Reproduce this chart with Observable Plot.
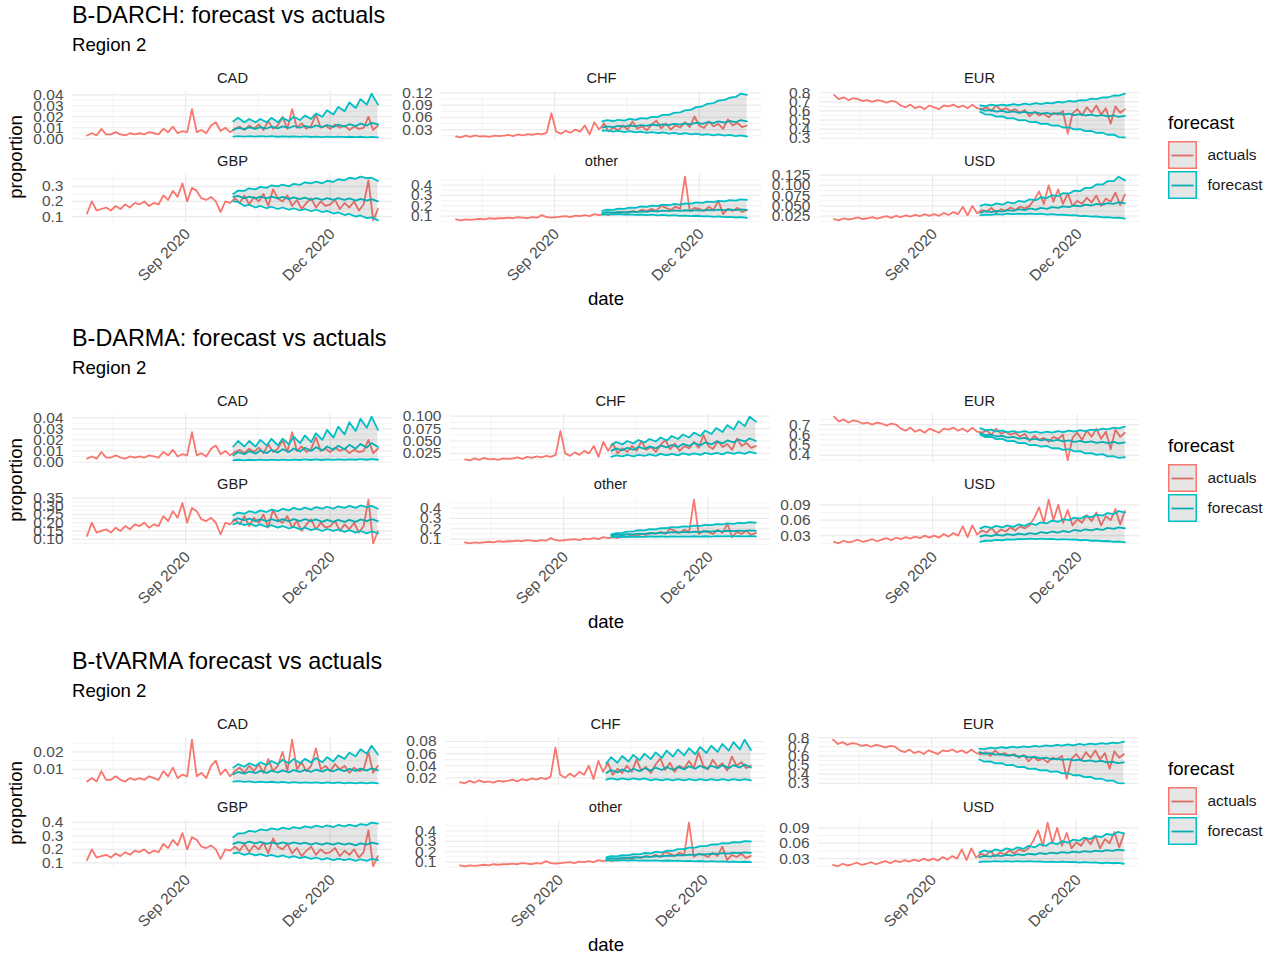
<!DOCTYPE html>
<html><head><meta charset="utf-8">
<script src="https://cdn.jsdelivr.net/npm/d3@7"></script>
<script src="https://cdn.jsdelivr.net/npm/@observablehq/plot@0.6"></script>
<style>
body{margin:0;background:#fff;}
#root{position:relative;width:1279px;height:955px;overflow:hidden;background:#fff;}
</style></head>
<body><div id="root"></div>
<script>
// ---------------- DATA ----------------
const sectionTitles = ["B-DARCH: forecast vs actuals", "B-DARMA: forecast vs actuals", "B-tVARMA forecast vs actuals"];
const sectionSubtitle = "Region 2";
const panelOrder = ["CAD", "CHF", "EUR", "GBP", "other", "USD"];
const models = ["darch", "darma", "tvarma"];
const legendKeys = ["actuals", "forecast"];
const legendColors = ["#F8766D", "#00BFC4"];
const xMajorBreaks = ["2020-09-01", "2020-12-01"];
const actualStart = "2020-07-01", actualStepDays = 3;
const forecastDates = ["2020-10-01","2020-10-04","2020-10-08","2020-10-11","2020-10-15","2020-10-18","2020-10-22","2020-10-25","2020-10-29",
  "2020-11-01","2020-11-05","2020-11-08","2020-11-12","2020-11-15","2020-11-19","2020-11-22","2020-11-26","2020-11-29",
  "2020-12-03","2020-12-06","2020-12-10","2020-12-13","2020-12-17","2020-12-20","2020-12-24","2020-12-27","2020-12-31"];

// actuals (every 3 days, Jul 1 – Dec 31 2020)
const actual_CAD = [0.003,0.005,0.003,0.009,0.004,0.004,0.006,0.004,0.003,0.005,
  0.004,0.005,0.004,0.006,0.005,0.004,0.009,0.006,0.011,0.005,0.007,
  0.006,0.027,0.006,0.008,0.005,0.012,0.015,0.007,0.010,0.006,
  0.009,0.011,0.008,0.012,0.009,0.013,0.008,0.016,0.009,0.012,
  0.020,0.009,0.027,0.010,0.014,0.009,0.012,0.022,0.010,0.012,
  0.009,0.013,0.010,0.012,0.008,0.011,0.009,0.010,0.020,0.008,0.012];
const actual_CHF = [0.013,0.011,0.015,0.012,0.016,0.013,0.014,0.012,0.015,0.014,
  0.015,0.017,0.014,0.018,0.016,0.019,0.017,0.020,0.018,0.022,0.070,
  0.025,0.020,0.027,0.022,0.030,0.025,0.040,0.018,0.048,0.030,
  0.045,0.025,0.035,0.028,0.040,0.030,0.050,0.032,0.038,0.028,
  0.042,0.052,0.033,0.045,0.030,0.040,0.035,0.048,0.036,0.062,
  0.040,0.034,0.050,0.038,0.044,0.032,0.055,0.040,0.046,0.036,0.040];
const actual_EUR = [0.777,0.73,0.75,0.72,0.74,0.73,0.71,0.72,0.70,0.72,
  0.71,0.69,0.71,0.70,0.66,0.64,0.67,0.63,0.65,0.62,0.66,
  0.64,0.62,0.66,0.65,0.67,0.64,0.66,0.63,0.67,0.63,
  0.62,0.64,0.60,0.66,0.61,0.63,0.60,0.62,0.58,0.61,
  0.54,0.59,0.55,0.57,0.53,0.58,0.56,0.60,0.35,0.57,
  0.62,0.55,0.64,0.58,0.66,0.56,0.63,0.46,0.65,0.58,0.62];
const actual_GBP = [0.12,0.20,0.14,0.15,0.16,0.14,0.17,0.15,0.18,0.16,
  0.19,0.18,0.20,0.17,0.19,0.18,0.24,0.21,0.27,0.23,0.32,
  0.20,0.29,0.27,0.22,0.21,0.23,0.20,0.13,0.20,0.19,
  0.22,0.19,0.24,0.18,0.23,0.20,0.25,0.17,0.28,0.22,
  0.20,0.24,0.17,0.21,0.15,0.19,0.22,0.16,0.20,0.17,
  0.18,0.21,0.15,0.19,0.16,0.20,0.14,0.18,0.34,0.075,0.15];
const actual_other = [0.07,0.06,0.07,0.065,0.07,0.075,0.07,0.08,0.075,0.08,
  0.08,0.085,0.08,0.09,0.085,0.08,0.09,0.085,0.11,0.09,0.085,
  0.09,0.095,0.10,0.09,0.105,0.10,0.11,0.10,0.12,0.11,
  0.12,0.11,0.13,0.12,0.14,0.13,0.15,0.14,0.16,0.15,
  0.17,0.15,0.20,0.18,0.16,0.19,0.17,0.48,0.15,0.18,
  0.17,0.15,0.19,0.16,0.25,0.12,0.17,0.15,0.18,0.14,0.16];
const actual_USD = [0.018,0.015,0.020,0.017,0.019,0.022,0.018,0.020,0.023,0.019,
  0.022,0.025,0.021,0.026,0.023,0.027,0.024,0.028,0.025,0.030,0.026,
  0.030,0.026,0.033,0.028,0.035,0.030,0.048,0.027,0.050,0.032,
  0.040,0.036,0.045,0.034,0.042,0.038,0.046,0.040,0.048,0.044,
  0.050,0.065,0.085,0.055,0.100,0.060,0.090,0.055,0.080,0.050,
  0.062,0.055,0.070,0.058,0.075,0.050,0.068,0.060,0.082,0.052,0.078];

// forecasts (twice weekly, Oct 1 – Dec 31 2020): lower, median, upper
const darch_CAD_lo = [0.0020,0.0024,0.0020,0.0024,0.0019,0.0023,0.0019,0.0023,0.0018,0.0022,0.0018,0.0022,0.0017,0.0021,0.0016,0.0020,0.0015,0.0019,0.0015,0.0019,0.0014,0.0018,0.0014,0.0018,0.0013,0.0017,0.0013];
const darch_CAD_mid = [0.0080,0.0098,0.0088,0.0104,0.0090,0.0106,0.0093,0.0110,0.0095,0.0112,0.0098,0.0116,0.0100,0.0118,0.0102,0.0121,0.0105,0.0125,0.0108,0.0129,0.0110,0.0132,0.0115,0.0138,0.0120,0.0145,0.0130];
const darch_CAD_hi = [0.016,0.019,0.015,0.018,0.015,0.018,0.015,0.019,0.015,0.019,0.016,0.020,0.017,0.021,0.018,0.023,0.020,0.026,0.022,0.029,0.025,0.033,0.028,0.036,0.031,0.041,0.031];
const darch_CHF_lo = [0.027,0.028,0.025,0.027,0.024,0.026,0.023,0.025,0.022,0.024,0.021,0.023,0.020,0.022,0.019,0.021,0.018,0.020,0.017,0.019,0.016,0.018,0.015,0.017,0.014,0.016,0.013];
const darch_CHF_mid = [0.035,0.038,0.036,0.039,0.037,0.040,0.038,0.041,0.039,0.042,0.040,0.043,0.041,0.044,0.042,0.045,0.043,0.047,0.044,0.048,0.046,0.050,0.047,0.051,0.048,0.053,0.050];
const darch_CHF_hi = [0.050,0.053,0.051,0.054,0.052,0.056,0.054,0.058,0.057,0.061,0.061,0.066,0.066,0.071,0.072,0.077,0.079,0.085,0.087,0.093,0.095,0.101,0.103,0.108,0.110,0.118,0.115];
const darch_EUR_lo = [0.59,0.563,0.56,0.538,0.54,0.518,0.52,0.498,0.50,0.478,0.48,0.458,0.46,0.438,0.44,0.418,0.42,0.398,0.40,0.378,0.38,0.358,0.36,0.338,0.34,0.313,0.31];
const darch_EUR_mid = [0.62,0.603,0.61,0.593,0.60,0.585,0.595,0.580,0.59,0.575,0.585,0.570,0.58,0.565,0.575,0.560,0.57,0.555,0.565,0.550,0.56,0.545,0.555,0.540,0.55,0.535,0.545];
const darch_EUR_hi = [0.66,0.653,0.67,0.658,0.67,0.660,0.675,0.665,0.68,0.670,0.685,0.675,0.69,0.683,0.70,0.693,0.71,0.703,0.72,0.715,0.735,0.730,0.75,0.748,0.77,0.768,0.79];
const darch_GBP_lo = [0.20,0.197,0.17,0.177,0.16,0.170,0.155,0.165,0.15,0.160,0.145,0.155,0.14,0.150,0.135,0.145,0.13,0.137,0.12,0.127,0.11,0.117,0.10,0.107,0.09,0.095,0.075];
const darch_GBP_mid = [0.23,0.237,0.22,0.232,0.22,0.232,0.22,0.232,0.22,0.230,0.215,0.227,0.215,0.225,0.21,0.222,0.21,0.222,0.21,0.222,0.21,0.220,0.205,0.217,0.205,0.215,0.20];
const darch_GBP_hi = [0.25,0.272,0.27,0.287,0.28,0.297,0.29,0.307,0.30,0.312,0.30,0.317,0.31,0.327,0.32,0.332,0.32,0.337,0.33,0.347,0.34,0.357,0.35,0.364,0.355,0.357,0.335];
const darch_other_lo = [0.115,0.120,0.115,0.120,0.115,0.118,0.112,0.116,0.110,0.114,0.108,0.112,0.105,0.109,0.102,0.106,0.100,0.104,0.097,0.101,0.094,0.097,0.090,0.094,0.087,0.090,0.083];
const darch_other_mid = [0.130,0.138,0.133,0.141,0.136,0.144,0.139,0.147,0.142,0.150,0.145,0.153,0.148,0.155,0.150,0.157,0.152,0.159,0.154,0.161,0.156,0.163,0.158,0.165,0.159,0.166,0.160];
const darch_other_hi = [0.150,0.163,0.160,0.173,0.170,0.183,0.180,0.193,0.190,0.202,0.198,0.210,0.205,0.217,0.212,0.224,0.220,0.232,0.228,0.240,0.235,0.247,0.242,0.254,0.250,0.262,0.257];
const darch_USD_lo = [0.027,0.029,0.028,0.030,0.029,0.031,0.030,0.0315,0.030,0.0315,0.030,0.031,0.029,0.030,0.028,0.029,0.027,0.0275,0.025,0.026,0.024,0.0245,0.022,0.023,0.021,0.0215,0.019];
const darch_USD_mid = [0.033,0.037,0.035,0.038,0.036,0.040,0.038,0.042,0.040,0.044,0.041,0.045,0.043,0.047,0.045,0.049,0.047,0.051,0.049,0.053,0.051,0.055,0.053,0.057,0.055,0.059,0.056];
const darch_USD_hi = [0.050,0.054,0.051,0.056,0.053,0.059,0.056,0.062,0.060,0.066,0.064,0.071,0.069,0.076,0.074,0.081,0.080,0.087,0.086,0.094,0.094,0.102,0.102,0.110,0.110,0.121,0.112];

const darma_CAD_lo = [0.0015,0.0020,0.0015,0.0020,0.0016,0.0021,0.0016,0.0021,0.0017,0.0022,0.0017,0.0022,0.0018,0.0023,0.0018,0.0023,0.0018,0.0023,0.0019,0.0024,0.0019,0.0024,0.0020,0.0025,0.0020,0.0025,0.0020];
const darma_CAD_mid = [0.0060,0.0090,0.0070,0.0098,0.0075,0.0104,0.0080,0.0110,0.0085,0.0116,0.0090,0.0122,0.0095,0.0128,0.0100,0.0134,0.0105,0.0140,0.0110,0.0147,0.0115,0.0155,0.0120,0.0163,0.0130,0.0172,0.0135];
const darma_CAD_hi = [0.014,0.019,0.014,0.019,0.014,0.020,0.015,0.021,0.015,0.021,0.016,0.023,0.017,0.024,0.018,0.026,0.020,0.029,0.022,0.032,0.025,0.036,0.028,0.039,0.031,0.041,0.029];
const darma_CHF_lo = [0.018,0.021,0.019,0.022,0.019,0.022,0.020,0.023,0.020,0.024,0.021,0.024,0.021,0.025,0.022,0.025,0.022,0.026,0.023,0.026,0.023,0.027,0.024,0.027,0.024,0.028,0.025];
const darma_CHF_mid = [0.030,0.035,0.031,0.036,0.032,0.038,0.034,0.039,0.035,0.041,0.037,0.042,0.038,0.044,0.040,0.046,0.041,0.047,0.043,0.049,0.045,0.051,0.047,0.053,0.049,0.055,0.050];
const darma_CHF_hi = [0.042,0.048,0.043,0.050,0.045,0.052,0.047,0.054,0.049,0.057,0.051,0.060,0.054,0.063,0.057,0.067,0.060,0.071,0.064,0.076,0.068,0.082,0.073,0.090,0.080,0.099,0.089];
const darma_EUR_lo = [0.60,0.578,0.58,0.558,0.56,0.538,0.54,0.518,0.52,0.498,0.50,0.483,0.49,0.468,0.47,0.453,0.46,0.438,0.44,0.418,0.42,0.403,0.41,0.388,0.39,0.373,0.38];
const darma_EUR_mid = [0.615,0.596,0.60,0.583,0.59,0.573,0.58,0.563,0.57,0.553,0.56,0.546,0.555,0.541,0.55,0.536,0.545,0.531,0.54,0.526,0.535,0.521,0.53,0.518,0.53,0.516,0.525];
const darma_EUR_hi = [0.665,0.646,0.65,0.633,0.64,0.626,0.635,0.623,0.635,0.621,0.63,0.618,0.63,0.621,0.635,0.626,0.64,0.631,0.645,0.636,0.65,0.643,0.66,0.653,0.67,0.663,0.68];
const darma_GBP_lo = [0.19,0.200,0.185,0.195,0.18,0.190,0.175,0.185,0.17,0.180,0.165,0.175,0.16,0.170,0.155,0.165,0.15,0.162,0.15,0.160,0.145,0.155,0.14,0.150,0.135,0.147,0.135];
const darma_GBP_mid = [0.215,0.227,0.215,0.225,0.21,0.222,0.21,0.222,0.21,0.222,0.21,0.222,0.21,0.222,0.21,0.220,0.205,0.217,0.205,0.217,0.205,0.217,0.205,0.220,0.21,0.222,0.21];
const darma_GBP_hi = [0.245,0.262,0.255,0.270,0.26,0.275,0.265,0.280,0.27,0.285,0.275,0.290,0.28,0.292,0.28,0.295,0.285,0.297,0.285,0.300,0.29,0.302,0.29,0.305,0.295,0.302,0.285];
const darma_other_lo = [0.120,0.124,0.121,0.125,0.122,0.125,0.122,0.126,0.123,0.126,0.123,0.127,0.124,0.127,0.124,0.128,0.125,0.128,0.125,0.129,0.126,0.129,0.126,0.130,0.127,0.130,0.127];
const darma_other_mid = [0.135,0.143,0.140,0.148,0.145,0.153,0.150,0.158,0.155,0.163,0.160,0.167,0.163,0.170,0.166,0.173,0.169,0.176,0.172,0.179,0.175,0.181,0.177,0.183,0.179,0.185,0.180];
const darma_other_hi = [0.145,0.158,0.160,0.173,0.175,0.186,0.185,0.196,0.195,0.206,0.205,0.215,0.213,0.223,0.220,0.230,0.228,0.238,0.235,0.245,0.242,0.251,0.248,0.257,0.254,0.263,0.260];
const darma_USD_lo = [0.018,0.020,0.020,0.0215,0.021,0.0225,0.022,0.0235,0.023,0.024,0.023,0.024,0.023,0.0235,0.022,0.023,0.022,0.0225,0.021,0.0215,0.020,0.0205,0.019,0.0195,0.018,0.0185,0.017];
const darma_USD_mid = [0.028,0.031,0.029,0.032,0.030,0.033,0.031,0.034,0.032,0.035,0.033,0.037,0.035,0.038,0.036,0.039,0.037,0.041,0.039,0.042,0.040,0.043,0.041,0.045,0.043,0.046,0.044];
const darma_USD_hi = [0.044,0.048,0.045,0.049,0.046,0.050,0.047,0.052,0.049,0.054,0.051,0.056,0.054,0.059,0.057,0.062,0.060,0.065,0.063,0.068,0.066,0.071,0.069,0.074,0.072,0.078,0.075];

const tvarma_CAD_lo = [0.0030,0.0033,0.0028,0.0031,0.0026,0.0030,0.0025,0.0029,0.0024,0.0028,0.0023,0.0027,0.0022,0.0026,0.0022,0.0026,0.0021,0.0025,0.0021,0.0025,0.0020,0.0024,0.0020,0.0024,0.0020,0.0024,0.0020];
const tvarma_CAD_mid = [0.0072,0.0085,0.0075,0.0088,0.0078,0.0091,0.0080,0.0093,0.0082,0.0094,0.0083,0.0096,0.0085,0.0097,0.0086,0.0098,0.0087,0.0100,0.0089,0.0101,0.0090,0.0103,0.0091,0.0104,0.0093,0.0106,0.0094];
const tvarma_CAD_hi = [0.0110,0.0130,0.0115,0.0135,0.0120,0.0140,0.0125,0.0148,0.0130,0.0155,0.0135,0.0160,0.0135,0.0160,0.0140,0.0165,0.0140,0.0170,0.0145,0.0180,0.0160,0.0195,0.0175,0.0215,0.0190,0.0235,0.0185];
const tvarma_CHF_lo = [0.017,0.019,0.017,0.019,0.017,0.019,0.017,0.019,0.016,0.018,0.016,0.018,0.016,0.018,0.016,0.018,0.016,0.018,0.016,0.018,0.016,0.018,0.016,0.018,0.016,0.018,0.016];
const tvarma_CHF_mid = [0.028,0.033,0.029,0.034,0.030,0.035,0.031,0.036,0.032,0.037,0.033,0.038,0.033,0.038,0.034,0.039,0.035,0.040,0.035,0.040,0.036,0.041,0.036,0.041,0.037,0.042,0.037];
const tvarma_CHF_hi = [0.044,0.054,0.045,0.056,0.047,0.058,0.049,0.060,0.051,0.062,0.053,0.065,0.055,0.067,0.057,0.069,0.059,0.071,0.061,0.073,0.063,0.076,0.065,0.079,0.067,0.083,0.066];
const tvarma_EUR_lo = [0.56,0.538,0.54,0.518,0.52,0.498,0.50,0.478,0.48,0.458,0.46,0.441,0.445,0.426,0.43,0.408,0.41,0.388,0.39,0.368,0.37,0.348,0.35,0.328,0.33,0.303,0.30];
const tvarma_EUR_mid = [0.64,0.623,0.63,0.613,0.62,0.603,0.61,0.593,0.60,0.583,0.59,0.573,0.58,0.563,0.57,0.556,0.565,0.550,0.56,0.543,0.55,0.536,0.545,0.528,0.535,0.521,0.53];
const tvarma_EUR_hi = [0.68,0.673,0.69,0.681,0.695,0.686,0.70,0.691,0.705,0.696,0.71,0.701,0.715,0.706,0.72,0.711,0.725,0.716,0.73,0.721,0.735,0.726,0.74,0.731,0.745,0.738,0.755];
const tvarma_GBP_lo = [0.17,0.177,0.16,0.170,0.155,0.165,0.15,0.160,0.145,0.155,0.14,0.150,0.135,0.145,0.13,0.140,0.125,0.135,0.12,0.132,0.12,0.130,0.115,0.127,0.115,0.130,0.12];
const tvarma_GBP_mid = [0.24,0.254,0.245,0.257,0.245,0.255,0.24,0.252,0.24,0.252,0.24,0.252,0.24,0.250,0.235,0.247,0.235,0.247,0.235,0.247,0.235,0.245,0.23,0.245,0.235,0.250,0.24];
const tvarma_GBP_hi = [0.29,0.317,0.32,0.337,0.33,0.347,0.34,0.355,0.345,0.360,0.35,0.365,0.355,0.370,0.36,0.375,0.365,0.377,0.365,0.380,0.37,0.382,0.37,0.387,0.38,0.397,0.39];
const tvarma_other_lo = [0.115,0.119,0.115,0.119,0.115,0.119,0.115,0.118,0.114,0.117,0.113,0.116,0.112,0.115,0.110,0.113,0.108,0.111,0.106,0.110,0.105,0.108,0.103,0.106,0.101,0.104,0.100];
const tvarma_other_mid = [0.130,0.138,0.135,0.143,0.140,0.148,0.145,0.153,0.150,0.158,0.155,0.163,0.160,0.168,0.165,0.173,0.170,0.178,0.175,0.183,0.180,0.187,0.183,0.191,0.187,0.195,0.190];
const tvarma_other_hi = [0.145,0.158,0.155,0.168,0.165,0.178,0.175,0.188,0.185,0.200,0.195,0.210,0.210,0.225,0.225,0.240,0.240,0.255,0.255,0.270,0.270,0.283,0.280,0.293,0.290,0.303,0.300];
const tvarma_USD_lo = [0.023,0.0245,0.024,0.025,0.024,0.025,0.024,0.025,0.024,0.025,0.024,0.0245,0.023,0.024,0.023,0.024,0.023,0.0235,0.022,0.023,0.022,0.0225,0.021,0.022,0.021,0.0215,0.020];
const tvarma_USD_mid = [0.033,0.0355,0.034,0.0365,0.035,0.0375,0.036,0.0385,0.037,0.0395,0.038,0.0405,0.039,0.0415,0.040,0.0425,0.041,0.0435,0.042,0.0445,0.043,0.0455,0.044,0.0465,0.045,0.0475,0.046];
const tvarma_USD_hi = [0.042,0.046,0.043,0.048,0.045,0.050,0.047,0.052,0.049,0.055,0.052,0.058,0.055,0.061,0.058,0.064,0.061,0.067,0.065,0.071,0.068,0.074,0.072,0.078,0.076,0.082,0.079];

// y tick labels per panel
const ticks_darch_CAD = ["0.00","0.01","0.02","0.03","0.04"];
const ticks_darch_CHF = ["0.03","0.06","0.09","0.12"];
const ticks_darch_EUR = ["0.3","0.4","0.5","0.6","0.7","0.8"];
const ticks_darch_GBP = ["0.1","0.2","0.3"];
const ticks_darch_other = ["0.1","0.2","0.3","0.4"];
const ticks_darch_USD = ["0.025","0.050","0.075","0.100","0.125"];
const ticks_darma_CAD = ["0.00","0.01","0.02","0.03","0.04"];
const ticks_darma_CHF = ["0.025","0.050","0.075","0.100"];
const ticks_darma_EUR = ["0.4","0.5","0.6","0.7"];
const ticks_darma_GBP = ["0.10","0.15","0.20","0.25","0.30","0.35"];
const ticks_darma_other = ["0.1","0.2","0.3","0.4"];
const ticks_darma_USD = ["0.03","0.06","0.09"];
const ticks_tvarma_CAD = ["0.01","0.02"];
const ticks_tvarma_CHF = ["0.02","0.04","0.06","0.08"];
const ticks_tvarma_EUR = ["0.3","0.4","0.5","0.6","0.7","0.8"];
const ticks_tvarma_GBP = ["0.1","0.2","0.3","0.4"];
const ticks_tvarma_other = ["0.1","0.2","0.3","0.4"];
const ticks_tvarma_USD = ["0.03","0.06","0.09"];

// ---------------- LOOKUPS built from the arrays ----------------
const actuals = {CAD: actual_CAD, CHF: actual_CHF, EUR: actual_EUR, GBP: actual_GBP, other: actual_other, USD: actual_USD};
const fcArrays = {
  darch: {CAD:[darch_CAD_lo,darch_CAD_mid,darch_CAD_hi], CHF:[darch_CHF_lo,darch_CHF_mid,darch_CHF_hi], EUR:[darch_EUR_lo,darch_EUR_mid,darch_EUR_hi], GBP:[darch_GBP_lo,darch_GBP_mid,darch_GBP_hi], other:[darch_other_lo,darch_other_mid,darch_other_hi], USD:[darch_USD_lo,darch_USD_mid,darch_USD_hi]},
  darma: {CAD:[darma_CAD_lo,darma_CAD_mid,darma_CAD_hi], CHF:[darma_CHF_lo,darma_CHF_mid,darma_CHF_hi], EUR:[darma_EUR_lo,darma_EUR_mid,darma_EUR_hi], GBP:[darma_GBP_lo,darma_GBP_mid,darma_GBP_hi], other:[darma_other_lo,darma_other_mid,darma_other_hi], USD:[darma_USD_lo,darma_USD_mid,darma_USD_hi]},
  tvarma: {CAD:[tvarma_CAD_lo,tvarma_CAD_mid,tvarma_CAD_hi], CHF:[tvarma_CHF_lo,tvarma_CHF_mid,tvarma_CHF_hi], EUR:[tvarma_EUR_lo,tvarma_EUR_mid,tvarma_EUR_hi], GBP:[tvarma_GBP_lo,tvarma_GBP_mid,tvarma_GBP_hi], other:[tvarma_other_lo,tvarma_other_mid,tvarma_other_hi], USD:[tvarma_USD_lo,tvarma_USD_mid,tvarma_USD_hi]}
};
const tickLabels = {
  darch: {CAD: ticks_darch_CAD, CHF: ticks_darch_CHF, EUR: ticks_darch_EUR, GBP: ticks_darch_GBP, other: ticks_darch_other, USD: ticks_darch_USD},
  darma: {CAD: ticks_darma_CAD, CHF: ticks_darma_CHF, EUR: ticks_darma_EUR, GBP: ticks_darma_GBP, other: ticks_darma_other, USD: ticks_darma_USD},
  tvarma: {CAD: ticks_tvarma_CAD, CHF: ticks_tvarma_CHF, EUR: ticks_tvarma_EUR, GBP: ticks_tvarma_GBP, other: ticks_tvarma_other, USD: ticks_tvarma_USD}
};

// ---------------- LAYOUT ----------------
const FONT = '"Liberation Sans", Arial, Helvetica, sans-serif';
const SEC_Y = [0, 323, 646];
const COL_X = [[72, 441, 819], [72, 450, 819], [72, 445, 818]];
const ROW_Y = [91, 174];
const PW = 320, PH = 48, ML = 62, MT = 26, MB = 82;
const TICK_FS = 15.5, STRIP_FS = 14.7, LW = 1.8;
const GRID = "#EBEBEB";
const DAY = 864e5;
const parse = s => new Date(s + "T00:00:00Z");
const actualDates = actual_CAD.map((_, i) => new Date(parse(actualStart).getTime() + i * actualStepDays * DAY));
const fcDates = forecastDates.map(parse);
const x0 = actualDates[0].getTime(), x1 = actualDates[actualDates.length - 1].getTime();
const xPad = (x1 - x0) * 0.05;
const xDomain = [new Date(x0 - xPad), new Date(x1 + xPad)];
const xMajor = xMajorBreaks.map(parse);
const xStep = xMajor[1] - xMajor[0];
const xExt = [xMajor[0] - xStep, ...xMajor.map(d => +d), xMajor[xMajor.length - 1].getTime() + xStep];
const xMinor = d3.pairs(xExt, (a, b) => new Date((a + b) / 2)).filter(d => d >= xDomain[0] && d <= xDomain[1]);
const fmtDate = d3.utcFormat("%b %Y");

const root = document.getElementById("root");

// overlay text (titles, axis titles, legend title)
const overlay = d3.select(root).append("svg")
  .attr("width", 1279).attr("height", 955)
  .style("position", "absolute").style("left", "0px").style("top", "0px")
  .style("font-family", FONT);
SEC_Y.forEach((oy, s) => {
  overlay.append("text").attr("x", 72).attr("y", oy + 22.5).attr("font-size", 23.4).attr("fill", "#000").text(sectionTitles[s]);
  overlay.append("text").attr("x", 72).attr("y", oy + 50.5).attr("font-size", 18.6).attr("fill", "#000").text(sectionSubtitle);
  overlay.append("text").attr("transform", `translate(22,${oy + 157}) rotate(-90)`).attr("text-anchor", "middle")
    .attr("font-size", 18.6).attr("fill", "#000").text("proportion");
  overlay.append("text").attr("x", 606).attr("y", oy + 305).attr("text-anchor", "middle")
    .attr("font-size", 18.6).attr("fill", "#000").text("date");
  overlay.append("text").attr("x", 1168).attr("y", oy + 128.5).attr("font-size", 18.6).attr("fill", "#000").text("forecast");
});

function place(el, left, top) {
  el.style.position = "absolute";
  el.style.left = left + "px";
  el.style.top = top + "px";
  el.style.background = "transparent";
  el.style.overflow = "visible";
  el.style.maxWidth = "none";
  el.style.fontFamily = FONT;
  root.appendChild(el);
}

function panel(model, cur, left, top, bottomRow) {
  const act = actuals[cur];
  const [lo, mid, hi] = fcArrays[model][cur];
  const aData = act.map((v, i) => ({date: actualDates[i], v}));
  const fData = lo.map((l, i) => ({date: fcDates[i], lo: l, mid: mid[i], hi: hi[i]}));
  const [mn, mx] = d3.extent([...act, ...lo, ...mid, ...hi]);
  const pad = (mx - mn) * 0.05;
  const yDomain = [mn - pad, mx + pad];
  const labels = tickLabels[model][cur];
  const tv = labels.map(Number);
  const labelOf = new Map(tv.map((v, i) => [v, labels[i]]));
  const st = tv[1] - tv[0];
  const ext = [tv[0] - st, ...tv, tv[tv.length - 1] + st];
  const yMinor = d3.pairs(ext, (a, b) => (a + b) / 2).filter(v => v >= yDomain[0] && v <= yDomain[1]);
  const yMajor = tv.filter(v => v >= yDomain[0] - 1e-9 && v <= yDomain[1] + 1e-9);
  const mb = bottomRow ? MB : 0;
  const marks = [
    Plot.ruleY(yMinor, {stroke: GRID, strokeWidth: 0.6}),
    Plot.ruleY(yMajor, {stroke: GRID, strokeWidth: 1.2}),
    Plot.ruleX(xMinor, {stroke: GRID, strokeWidth: 0.6}),
    Plot.ruleX(xMajor, {stroke: GRID, strokeWidth: 1.2}),
    Plot.line(aData, {x: "date", y: "v", stroke: legendColors[0], strokeWidth: LW}),
    Plot.line(fData, {x: "date", y: "mid", stroke: legendColors[1], strokeWidth: LW}),
    Plot.areaY(fData, {x: "date", y1: "lo", y2: "hi", fill: "#333333", fillOpacity: 0.12}),
    Plot.line(fData, {x: "date", y: "lo", stroke: legendColors[1], strokeWidth: LW}),
    Plot.line(fData, {x: "date", y: "hi", stroke: legendColors[1], strokeWidth: LW}),
    Plot.axisY(tv, {tickSize: 0, tickPadding: 9, fontSize: TICK_FS, color: "#4D4D4D", label: null,
      tickFormat: d => labelOf.get(d)}),
    Plot.text([cur], {text: d => d, frameAnchor: "top", lineAnchor: "middle", dy: -13, fontSize: STRIP_FS, fill: "#1A1A1A"})
  ];
  if (bottomRow) {
    marks.push(Plot.axisX(xMajor, {tickSize: 0, tickPadding: 9, tickRotate: -45, fontSize: TICK_FS, dx: 2,
      color: "#4D4D4D", label: null, tickFormat: fmtDate}));
  }
  const svg = Plot.plot({
    width: ML + PW, height: MT + PH + mb,
    marginLeft: ML, marginRight: 0, marginTop: MT, marginBottom: mb,
    x: {type: "utc", domain: xDomain, label: null, ...(bottomRow ? {} : {axis: null})},
    y: {domain: yDomain, label: null},
    marks
  });
  place(svg, left - ML, top - MT);
}

function legend(oy) {
  const svg = Plot.plot({
    width: 29 + 80, height: 58,
    marginLeft: 0, marginRight: 80, marginTop: 0, marginBottom: 0,
    x: {domain: [0, 1], axis: null},
    y: {type: "band", domain: legendKeys, paddingInner: 0.07, paddingOuter: 0, label: null},
    color: {domain: legendKeys, range: legendColors},
    marks: [
      Plot.ruleY(legendKeys, {y: d => d, x1: 0.12, x2: 0.88, stroke: d => d, strokeWidth: LW}),
      Plot.barX(legendKeys, {y: d => d, x1: 0, x2: 1, fill: "#333333", fillOpacity: 0.12, stroke: d => d, strokeWidth: 1.5, inset: 0.75}),
      Plot.axisY({anchor: "right", tickSize: 0, tickPadding: 10, fontSize: TICK_FS, color: "#1A1A1A", label: null})
    ]
  });
  place(svg, 1168, oy + 141);
}

models.forEach((model, s) => {
  const oy = SEC_Y[s];
  panelOrder.forEach((cur, k) => {
    const col = k % 3, row = Math.floor(k / 3);
    panel(model, cur, COL_X[s][col], oy + ROW_Y[row], row === 1);
  });
  legend(oy);
});
</script>
</body></html>
